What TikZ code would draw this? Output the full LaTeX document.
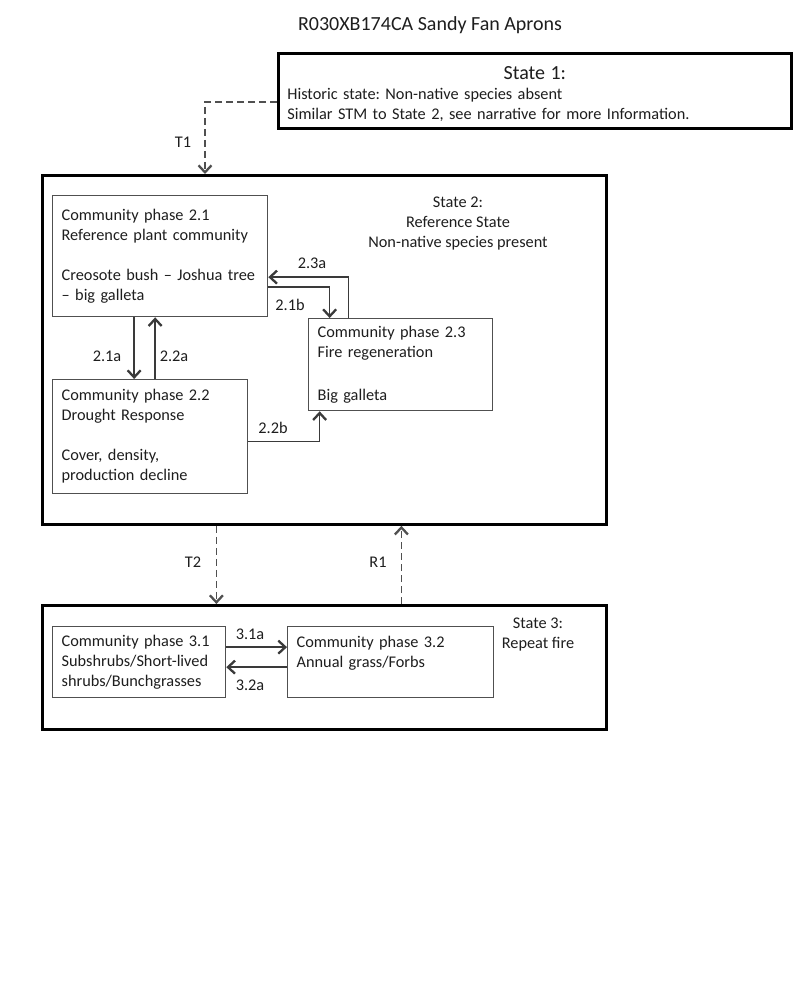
\documentclass[tikz,border=0pt]{standalone}
\usepackage{fontspec}
\setmainfont{Carlito}
\usetikzlibrary{arrows.meta}
\definecolor{linegray}{HTML}{3A3A3A}
\definecolor{boxgray}{HTML}{505050}
\definecolor{inkgray}{HTML}{1E1E1E}
\frenchspacing

\begin{document}
\begin{tikzpicture}[x=1pt,y=-1pt,
   every node/.style={text=inkgray},
   statebox/.style={draw=black,line width=2.8pt,anchor=north west,inner sep=0pt},
   phase/.style={draw=boxgray,line width=1.3pt,anchor=north west,align=left,
                 inner xsep=9pt,inner ysep=0pt,font=\fontsize{16.3}{20}\selectfont},
   flow/.style={draw=linegray,line width=1.4pt,
                -{Straight Barb[length=7pt,width=13pt,line width=2.3pt]}},
   transline/.style={flow,draw=boxgray,dash pattern=on 7pt off 4pt},
   lbl/.style={font=\fontsize{16.3}{20}\selectfont}]
   \useasboundingbox[fill=white] (0,0) rectangle (800,984);

   \node[lbl] (title) at (430,25) {\fontsize{20}{24}\selectfont R030XB174CA Sandy Fan Aprons};

   % states
   \node[statebox,minimum width=513pt,minimum height=75pt,align=left,text width=495pt,
         inner xsep=9pt,font=\fontsize{16.3}{20}\selectfont] (s1) at (277,52)
        {\makebox[\linewidth]{\rule{0pt}{20pt}\fontsize{20}{24}\selectfont State 1:}\\
         Historic state: Non-native species absent\\
         Similar STM to State 2, see narrative for more Information.};
   \node[statebox,minimum width=564pt,minimum height=349pt] (s2) at (41,174) {};
   \node[statebox,minimum width=564pt,minimum height=124pt] (s3) at (41,604) {};

   \node[lbl,align=center] (s2lbl) at (458,224) {State 2:\\Reference State\\Non-native species present};
   \node[lbl,align=center] (s3lbl) at (538,635) {State 3:\\Repeat fire};

   % community phases
   \node[phase,text width=197pt,minimum height=121pt] (p21) at (52,195)
        {Community phase 2.1\\Reference plant community\\[20pt]Creosote bush -- Joshua tree\\-- big galleta};
   \node[phase,text width=177pt,minimum height=114pt] (p22) at (52,379)
        {Community phase 2.2\\Drought Response\\[20pt]Cover, density,\\production decline};
   \node[phase,text width=166pt,minimum height=92pt] (p23) at (308,318)
        {Community phase 2.3\\Fire regeneration\\[23pt]Big galleta};
   \node[phase,text width=155pt,minimum height=71pt] (p31) at (52,626)
        {Community phase 3.1\\Subshrubs/Short-lived\\shrubs/Bunchgrasses};
   \node[phase,text width=188pt,minimum height=71pt] (p32) at (287,626)
        {Community phase 3.2\\Annual grass/Forbs\\\mbox{}};

   % pathways
   \draw[flow] ([xshift=-26pt]p21.south) -- ([xshift=-26pt]p21.south |- p22.north);
   \draw[flow] ([xshift=5pt]p22.north) -- ([xshift=5pt]p22.north |- p21.south);
   \draw[flow] ([yshift=-31pt]p21.east) -| ([xshift=-71pt]p23.north);
   \draw[flow] ([xshift=-52pt]p23.north) |- ([yshift=-21pt]p21.east);
   \draw[flow] ([yshift=-5pt]p22.east) -| ([xshift=-81pt]p23.south);
   \draw[flow] ([yshift=15pt]p31.east) -- ([yshift=15pt]p31.east -| p32.west);
   \draw[flow] ([yshift=-5pt]p32.west) -- ([yshift=-5pt]p32.west -| p31.east);

   \node[lbl] (l21a) at (107,356) {2.1a};
   \node[lbl] (l22a) at (174,356) {2.2a};
   \node[lbl] (l21b) at (290,305) {2.1b};
   \node[lbl] (l23a) at (312,263) {2.3a};
   \node[lbl] (l22b) at (273,428) {2.2b};
   \node[lbl] (l31a) at (250,634) {3.1a};
   \node[lbl] (l32a) at (250,685) {3.2a};

   % transitions
   \coordinate (t1bend) at (205,102);
   \draw[transline] (s1.west |- t1bend) -- (t1bend) -- (t1bend |- s2.north);
   \draw[transline] ([xshift=-108pt]s2.south) -- ([xshift=-108pt]s3.north);
   \draw[transline] ([xshift=77pt]s3.north) -- ([xshift=77pt]s2.south);

   \node[lbl] (t1lbl) at (183,142) {T1};
   \node[lbl] (t2lbl) at (193,562) {T2};
   \node[lbl] (r1lbl) at (378,562) {R1};
\end{tikzpicture}
\end{document}
